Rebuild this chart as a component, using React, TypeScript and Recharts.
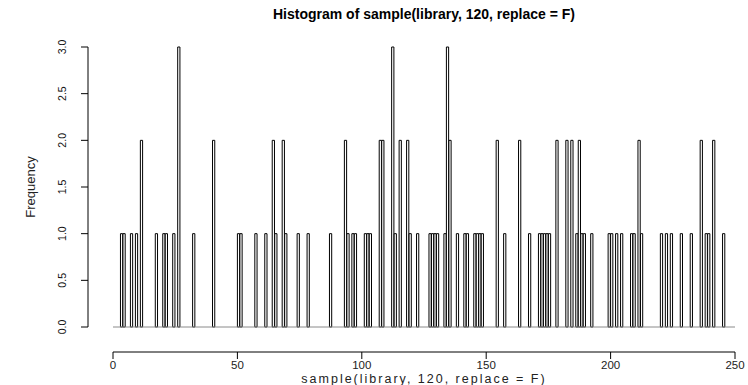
import React from 'react';
import { BarChart, Bar, XAxis, YAxis, ReferenceLine } from 'recharts';

// Upper edge of each unit-width histogram cell that holds at least one draw,
// and how many draws fell into it.
const occupiedBins = [
  4, 5, 8, 10, 12, 18, 21, 22, 25, 27, 33, 41,
  51, 52, 58, 62, 65, 66, 69, 70, 75, 79,
  88, 94, 95, 97, 98, 102, 103, 104, 108, 109, 113, 114, 116, 119, 120,
  123, 128, 129, 130, 131, 134, 135, 136, 139, 142, 143, 146, 147, 148, 149, 155, 158,
  164, 168, 172, 173, 174, 175, 176, 179, 183, 185, 187, 188, 189, 190, 193,
  200, 201, 203, 205, 209, 210, 212, 213, 221, 223, 225, 229, 233, 237, 239, 240, 242, 246,
];
const frequencies = [
  1, 1, 1, 1, 2, 1, 1, 1, 1, 3, 1, 2,
  1, 1, 1, 1, 2, 1, 2, 1, 1, 1,
  1, 2, 1, 1, 1, 1, 1, 1, 2, 2, 3, 1, 2, 2, 1,
  1, 1, 1, 1, 1, 1, 3, 2, 1, 1, 1, 1, 1, 1, 1, 2, 1,
  2, 1, 1, 1, 1, 1, 1, 2, 2, 2, 1, 2, 1, 1, 1,
  1, 1, 1, 1, 1, 1, 2, 1, 1, 1, 1, 1, 1, 2, 1, 1, 2, 1,
];

const binCount = 250;
const yMax = 3;
const xTicks = [0, 50, 100, 150, 200, 250];
const yTicks = [0, 0.5, 1, 1.5, 2, 2.5, 3];

const titleText = 'Histogram of sample(library, 120, replace = F)';
const xLabelText = 'sample(library, 120, replace = F)';
const yLabelText = 'Frequency';

const lookup = new Map<number, number>();
occupiedBins.forEach((b, i) => lookup.set(b, frequencies[i]));
const table = Array.from({ length: binCount }, (_, i) => ({
  bin: i + 1,
  count: lookup.get(i + 1) ?? 0,
}));

// Layout (R-style detached axes, drawn 25px away from the plot region)
const W = 748;
const H = 385;
const plotLeft = 113;
const plotRight = 735;
const plotTop = 47;
const plotBottom = 327;
const axisGap = 25;
const tickLen = 7;
const font = '"Liberation Sans", Arial, sans-serif';

const xAxisY = plotBottom + axisGap;
const yAxisX = plotLeft - axisGap;
const unitsPerPxX = binCount / (plotRight - plotLeft);
const unitsPerPxY = yMax / (plotBottom - plotTop);

const YTick = (props: any) => {
  const { y, payload } = props;
  return (
    <g>
      <line x1={yAxisX} y1={y} x2={yAxisX - tickLen} y2={y} stroke="#000" strokeWidth={1} />
      <text
        transform={`translate(${yAxisX - 26},${y}) rotate(-90)`}
        textAnchor="middle"
        dominantBaseline="central"
        fontFamily={font}
        fontSize={10.5}
        fill="#111"
      >
        {Number(payload.value).toFixed(1)}
      </text>
    </g>
  );
};

const XTick = (props: any) => {
  const { x, payload } = props;
  return (
    <g>
      <line x1={x} y1={xAxisY} x2={x} y2={xAxisY + tickLen} stroke="#000" strokeWidth={1} />
      <text
        x={x}
        y={xAxisY + 13}
        textAnchor="middle"
        dominantBaseline="central"
        fontFamily={font}
        fontSize={11.5}
        fill="#222"
      >
        {payload.value}
      </text>
    </g>
  );
};

export default function App() {
  const barWidth = (plotRight - plotLeft) / binCount;
  return (
    <div style={{ position: 'absolute', left: 0, top: 0, background: '#fff' }}>
      <BarChart
        width={W}
        height={H}
        data={table}
        margin={{ top: plotTop, right: W - plotRight, left: 0, bottom: 0 }}
        barCategoryGap={0}
        barGap={0}
      >
        <XAxis
          xAxisId="num"
          dataKey="bin"
          type="number"
          domain={[0, binCount]}
          ticks={xTicks}
          interval={0}
          height={H - plotBottom}
          axisLine={false}
          tickLine={false}
          tick={<XTick />}
        />
        <XAxis xAxisId="bins" dataKey="bin" type="category" hide />
        <YAxis
          yAxisId="freq"
          type="number"
          domain={[0, yMax]}
          ticks={yTicks}
          interval={0}
          width={plotLeft}
          axisLine={false}
          tickLine={false}
          tick={<YTick />}
        />
        {/* axis lines, offset from the plot region */}
        <ReferenceLine
          xAxisId="num"
          yAxisId="freq"
          ifOverflow="visible"
          segment={[
            { x: -axisGap * unitsPerPxX, y: 0 },
            { x: -axisGap * unitsPerPxX, y: yMax },
          ]}
          stroke="#000"
          strokeWidth={1}
        />
        <ReferenceLine
          xAxisId="num"
          yAxisId="freq"
          ifOverflow="visible"
          segment={[
            { x: 0, y: -axisGap * unitsPerPxY },
            { x: binCount, y: -axisGap * unitsPerPxY },
          ]}
          stroke="#000"
          strokeWidth={1}
        />
        <ReferenceLine xAxisId="num" yAxisId="freq" y={0} stroke="#8a8a8a" strokeWidth={1} />
        <Bar
          dataKey="count"
          xAxisId="bins"
          yAxisId="freq"
          fill="#fff"
          stroke="#000"
          strokeWidth={1}
          barSize={barWidth}
          isAnimationActive={false}
        />
        <text
          x={(plotLeft + plotRight) / 2}
          y={14}
          textAnchor="middle"
          dominantBaseline="central"
          fontFamily={font}
          fontWeight="bold"
          fontSize={14}
          fill="#000"
        >
          {titleText}
        </text>
        <text
          x={(plotLeft + plotRight) / 2}
          y={379}
          textAnchor="middle"
          dominantBaseline="central"
          fontFamily={font}
          fontSize={12.5}
          letterSpacing={2}
          fill="#222"
        >
          {xLabelText}
        </text>
        <text
          transform={`translate(30,${(plotTop + plotBottom) / 2}) rotate(-90)`}
          textAnchor="middle"
          dominantBaseline="central"
          fontFamily={font}
          fontSize={13}
          fill="#222"
        >
          {yLabelText}
        </text>
      </BarChart>
    </div>
  );
}
